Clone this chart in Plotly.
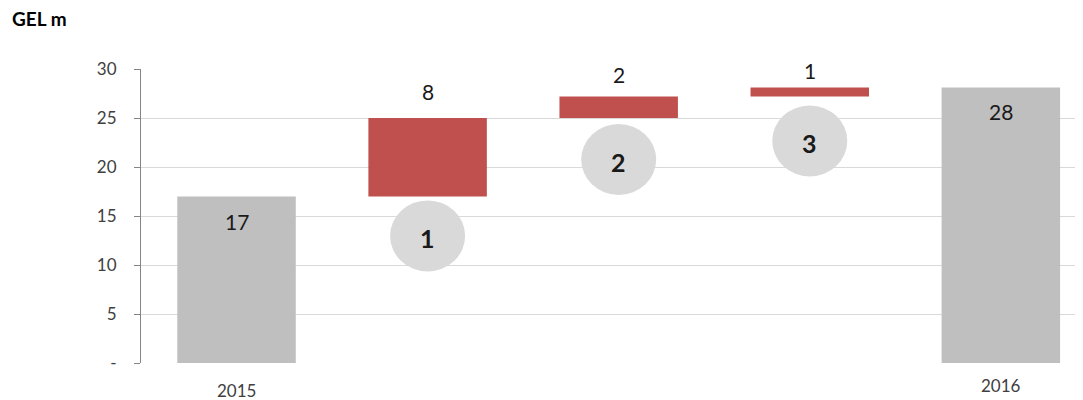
import plotly.graph_objects as go

categories = ["2015", "Step 1", "Step 2", "Step 3", "2016"]
values = [17, 8, 2.2, 0.9, None]
measures = ["absolute", "relative", "relative", "relative", "total"]
x_labels = ["2015", "", "", "", "2016"]
circle_labels = ["1", "2", "3"]
y_ticks = [0, 5, 10, 15, 20, 25, 30]
y_ticktext = ["-", "5", "10", "15", "20", "25", "30"]

# cumulative tops/bases derived from the values
tops, bases = [], []
run = 0.0
for v, m in zip(values, measures):
    if m == "absolute":
        bases.append(0.0)
        run = v
    elif m == "relative":
        bases.append(run)
        run += v
    else:
        bases.append(0.0)
    tops.append(run)
label_vals = [v if v is not None else t for v, t in zip(values, tops)]

RED = "#c0504d"
GREY = "#bfbfbf"
CIRCLE = "#d9d9d9"
FONT = "Lato"

fig = go.Figure()
fig.add_trace(go.Waterfall(
    x=list(range(len(categories))),
    y=[v if v is not None else 0 for v in values],
    measure=measures,
    width=0.62,
    increasing=dict(marker=dict(color=RED, line=dict(width=0))),
    decreasing=dict(marker=dict(color=RED, line=dict(width=0))),
    totals=dict(marker=dict(color=GREY, line=dict(width=0))),
    connector=dict(visible=False),
    hoverinfo="skip",
    showlegend=False,
))

# data labels
label_shift = [-25, 27, 22, 17, -24]
for i, (t, v) in enumerate(zip(tops, label_vals)):
    fig.add_annotation(x=i, y=t, xref="x", yref="y", text=str(int(round(v))),
                       showarrow=False, yshift=label_shift[i], yanchor="middle",
                       font=dict(family=FONT, size=21, color="#1a1a1a"))

# numbered circles below the increment bars
gaps = [4, 6, 9]
for k, lab in enumerate(circle_labels):
    i = k + 1
    fig.add_shape(type="circle", xref="x", yref="y",
                  xsizemode="pixel", xanchor=i, x0=-37.5, x1=37.5,
                  ysizemode="pixel", yanchor=bases[i], y0=-gaps[k] - 71, y1=-gaps[k],
                  fillcolor=CIRCLE, line=dict(width=0), layer="above")
    fig.add_annotation(x=i, y=bases[i], xref="x", yref="y", text="<b>%s</b>" % lab,
                       showarrow=False, yshift=-gaps[k] - 38, yanchor="middle",
                       font=dict(family=FONT, size=25, color="#1a1a1a"))

# x category labels
xlab_shift = [-27, 0, 0, 0, -22]
for i, lab in enumerate(x_labels):
    if lab:
        fig.add_annotation(x=i, y=0, xref="x", yref="paper", text=lab, showarrow=False,
                           yshift=xlab_shift[i], yanchor="middle",
                           font=dict(family=FONT, size=17, color="#404040"))

fig.add_annotation(x=-0.139, y=1.173, xref="paper", yref="paper", text="<b>GEL m</b>",
                   showarrow=False, xanchor="left", yanchor="middle",
                   font=dict(family=FONT, size=19, color="#000000"))

fig.update_layout(
    width=1075, height=392,
    margin=dict(l=133, r=0, t=61, b=37),
    paper_bgcolor="white", plot_bgcolor="white",
    font=dict(family=FONT, color="#404040"),
    xaxis=dict(range=[-0.5, 4.43], showticklabels=False, ticks="", showgrid=False,
               zeroline=False, showline=False, fixedrange=True),
    yaxis=dict(range=[0, 30], tickvals=y_ticks, ticktext=y_ticktext,
               showgrid=True, gridcolor="#d9d9d9", gridwidth=1,
               zeroline=False, showline=True, linecolor="#868686", linewidth=1,
               ticks="outside", ticklen=6, tickcolor="#868686", ticklabelstandoff=14,
               tickfont=dict(family=FONT, size=17, color="#404040")),
)

fig.write_html("out.html")
